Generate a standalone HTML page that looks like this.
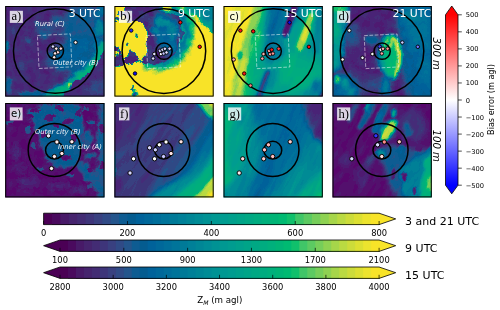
<!DOCTYPE html>
<html><head><meta charset="utf-8"><title>Figure</title>
<style>html,body{margin:0;padding:0;background:#fff}svg{display:block;will-change:transform}text{font-family:"DejaVu Sans","Liberation Sans",sans-serif}.se{font-family:"Liberation Serif","DejaVu Serif",serif}.it{font-style:italic}</style></head><body>
<svg width="500" height="310" viewBox="0 0 500 310">
<rect width="500" height="310" fill="#fff"/>
<defs>
<filter id="b1" filterUnits="userSpaceOnUse" x="-60" y="-60" width="240" height="240"><feGaussianBlur stdDeviation="1"/></filter>
<filter id="b2" filterUnits="userSpaceOnUse" x="-60" y="-60" width="240" height="240"><feGaussianBlur stdDeviation="2"/></filter>
<filter id="b3" filterUnits="userSpaceOnUse" x="-60" y="-60" width="240" height="240"><feGaussianBlur stdDeviation="3.5"/></filter>
<filter id="b6" filterUnits="userSpaceOnUse" x="-60" y="-60" width="240" height="240"><feGaussianBlur stdDeviation="6"/></filter>
<clipPath id="cp00"><rect x="5.2" y="6.0" width="99.3" height="90.6"/></clipPath>
<clipPath id="cp01"><rect x="114.4" y="6.0" width="99.3" height="90.6"/></clipPath>
<clipPath id="cp02"><rect x="223.5" y="6.0" width="99.3" height="90.6"/></clipPath>
<clipPath id="cp03"><rect x="332.5" y="6.0" width="99.3" height="90.6"/></clipPath>
<clipPath id="cp10"><rect x="5.2" y="103.0" width="99.3" height="94.4"/></clipPath>
<clipPath id="cp11"><rect x="114.4" y="103.0" width="99.3" height="94.4"/></clipPath>
<clipPath id="cp12"><rect x="223.5" y="103.0" width="99.3" height="94.4"/></clipPath>
<clipPath id="cp13"><rect x="332.5" y="103.0" width="99.3" height="94.4"/></clipPath>
</defs>
<defs>
<filter id="vma" x="0" y="0" width="100%" height="100%" color-interpolation-filters="sRGB"><feTurbulence type="fractalNoise" baseFrequency="0.13" numOctaves="3" seed="3" result="n"/><feDisplacementMap in="SourceGraphic" in2="n" scale="6" xChannelSelector="R" yChannelSelector="G" result="d"/><feColorMatrix in="n" type="matrix" values="0 0 1 0 0  0 0 1 0 0  0 0 1 0 0  0 0 0 0 1" result="ng"/><feComposite in="d" in2="ng" operator="arithmetic" k1="0" k2="1" k3="0.11" k4="-0.055" result="h"/><feComponentTransfer in="h"><feFuncR type="discrete" tableValues="0.345 0.329 0.306 0.290 0.271 0.243 0.224 0.188 0.141 0.055 0.016 0.000 0.000 0.000 0.000 0.000 0.000 0.000 0.000 0.000 0.000 0.000 0.000 0.000 0.000 0.000 0.000 0.000 0.000 0.063 0.251 0.361 0.463 0.557 0.651 0.729 0.800 0.863 0.925 0.973"/><feFuncG type="discrete" tableValues="0.024 0.063 0.102 0.141 0.173 0.208 0.251 0.290 0.333 0.361 0.361 0.384 0.408 0.431 0.455 0.478 0.502 0.525 0.549 0.573 0.596 0.612 0.627 0.643 0.659 0.675 0.690 0.706 0.729 0.753 0.776 0.792 0.808 0.824 0.839 0.855 0.863 0.878 0.894 0.894"/><feFuncB type="discrete" tableValues="0.424 0.431 0.447 0.463 0.471 0.478 0.502 0.525 0.549 0.573 0.565 0.604 0.604 0.604 0.604 0.596 0.596 0.588 0.588 0.580 0.573 0.565 0.549 0.533 0.518 0.502 0.486 0.463 0.447 0.424 0.408 0.384 0.353 0.322 0.290 0.259 0.227 0.196 0.180 0.157"/><feFuncA type="linear" slope="0" intercept="1"/></feComponentTransfer></filter>
<filter id="vmb" x="0" y="0" width="100%" height="100%" color-interpolation-filters="sRGB"><feTurbulence type="fractalNoise" baseFrequency="0.12" numOctaves="3" seed="5" result="n"/><feDisplacementMap in="SourceGraphic" in2="n" scale="7" xChannelSelector="R" yChannelSelector="G" result="d"/><feColorMatrix in="n" type="matrix" values="0 0 1 0 0  0 0 1 0 0  0 0 1 0 0  0 0 0 0 1" result="ng"/><feComposite in="d" in2="ng" operator="arithmetic" k1="0" k2="1" k3="0.1" k4="-0.05" result="h"/><feComponentTransfer in="h"><feFuncR type="discrete" tableValues="0.345 0.329 0.306 0.290 0.243 0.224 0.188 0.141 0.055 0.016 0.000 0.000 0.000 0.000 0.000 0.000 0.000 0.000 0.000 0.000 0.000 0.000 0.000 0.000 0.000 0.000 0.063 0.251 0.361 0.557 0.651 0.729 0.800 0.863 0.925 0.973 0.973 0.973 0.973 0.973"/><feFuncG type="discrete" tableValues="0.024 0.063 0.102 0.141 0.208 0.251 0.290 0.333 0.361 0.361 0.384 0.408 0.455 0.478 0.502 0.525 0.549 0.573 0.596 0.612 0.627 0.659 0.675 0.690 0.706 0.729 0.753 0.776 0.792 0.824 0.839 0.855 0.863 0.878 0.894 0.894 0.894 0.894 0.894 0.894"/><feFuncB type="discrete" tableValues="0.424 0.431 0.447 0.463 0.478 0.502 0.525 0.549 0.573 0.565 0.604 0.604 0.604 0.596 0.596 0.588 0.588 0.580 0.573 0.565 0.549 0.518 0.502 0.486 0.463 0.447 0.424 0.408 0.384 0.322 0.290 0.259 0.227 0.196 0.180 0.157 0.157 0.157 0.157 0.157"/><feFuncA type="linear" slope="0" intercept="1"/></feComponentTransfer></filter>
<filter id="vmc" x="0" y="0" width="100%" height="100%" color-interpolation-filters="sRGB"><feTurbulence type="fractalNoise" baseFrequency="0.16 0.035" numOctaves="3" seed="8" result="n"/><feDisplacementMap in="SourceGraphic" in2="n" scale="5" xChannelSelector="R" yChannelSelector="G" result="d"/><feColorMatrix in="n" type="matrix" values="0 0 1 0 0  0 0 1 0 0  0 0 1 0 0  0 0 0 0 1" result="ng"/><feComposite in="d" in2="ng" operator="arithmetic" k1="0" k2="1" k3="0.12" k4="-0.06" result="h"/><feComponentTransfer in="h"><feFuncR type="discrete" tableValues="0.345 0.329 0.306 0.290 0.271 0.243 0.224 0.188 0.141 0.055 0.016 0.000 0.000 0.000 0.000 0.000 0.000 0.000 0.000 0.000 0.000 0.000 0.000 0.000 0.000 0.000 0.000 0.000 0.000 0.063 0.251 0.361 0.463 0.557 0.651 0.729 0.800 0.863 0.925 0.973"/><feFuncG type="discrete" tableValues="0.024 0.063 0.102 0.141 0.173 0.208 0.251 0.290 0.333 0.361 0.361 0.384 0.408 0.431 0.455 0.478 0.502 0.525 0.549 0.573 0.596 0.612 0.627 0.643 0.659 0.675 0.690 0.706 0.729 0.753 0.776 0.792 0.808 0.824 0.839 0.855 0.863 0.878 0.894 0.894"/><feFuncB type="discrete" tableValues="0.424 0.431 0.447 0.463 0.471 0.478 0.502 0.525 0.549 0.573 0.565 0.604 0.604 0.604 0.604 0.596 0.596 0.588 0.588 0.580 0.573 0.565 0.549 0.533 0.518 0.502 0.486 0.463 0.447 0.424 0.408 0.384 0.353 0.322 0.290 0.259 0.227 0.196 0.180 0.157"/><feFuncA type="linear" slope="0" intercept="1"/></feComponentTransfer></filter>
<filter id="vmd" x="0" y="0" width="100%" height="100%" color-interpolation-filters="sRGB"><feTurbulence type="fractalNoise" baseFrequency="0.13" numOctaves="3" seed="6" result="n"/><feDisplacementMap in="SourceGraphic" in2="n" scale="4.5" xChannelSelector="R" yChannelSelector="G" result="d"/><feColorMatrix in="n" type="matrix" values="0 0 1 0 0  0 0 1 0 0  0 0 1 0 0  0 0 0 0 1" result="ng"/><feComposite in="d" in2="ng" operator="arithmetic" k1="0" k2="1" k3="0.1" k4="-0.05" result="h"/><feComponentTransfer in="h"><feFuncR type="discrete" tableValues="0.345 0.329 0.306 0.290 0.271 0.243 0.224 0.188 0.141 0.055 0.016 0.000 0.000 0.000 0.000 0.000 0.000 0.000 0.000 0.000 0.000 0.000 0.000 0.000 0.000 0.000 0.000 0.000 0.000 0.063 0.251 0.361 0.463 0.557 0.651 0.729 0.800 0.863 0.925 0.973"/><feFuncG type="discrete" tableValues="0.024 0.063 0.102 0.141 0.173 0.208 0.251 0.290 0.333 0.361 0.361 0.384 0.408 0.431 0.455 0.478 0.502 0.525 0.549 0.573 0.596 0.612 0.627 0.643 0.659 0.675 0.690 0.706 0.729 0.753 0.776 0.792 0.808 0.824 0.839 0.855 0.863 0.878 0.894 0.894"/><feFuncB type="discrete" tableValues="0.424 0.431 0.447 0.463 0.471 0.478 0.502 0.525 0.549 0.573 0.565 0.604 0.604 0.604 0.604 0.596 0.596 0.588 0.588 0.580 0.573 0.565 0.549 0.533 0.518 0.502 0.486 0.463 0.447 0.424 0.408 0.384 0.353 0.322 0.290 0.259 0.227 0.196 0.180 0.157"/><feFuncA type="linear" slope="0" intercept="1"/></feComponentTransfer></filter>
<filter id="vme" x="0" y="0" width="100%" height="100%" color-interpolation-filters="sRGB"><feTurbulence type="fractalNoise" baseFrequency="0.13" numOctaves="3" seed="7" result="n"/><feDisplacementMap in="SourceGraphic" in2="n" scale="8" xChannelSelector="R" yChannelSelector="G" result="d"/><feColorMatrix in="n" type="matrix" values="0 0 1 0 0  0 0 1 0 0  0 0 1 0 0  0 0 0 0 1" result="ng"/><feComposite in="d" in2="ng" operator="arithmetic" k1="0" k2="1" k3="0.1" k4="-0.05" result="h"/><feComponentTransfer in="h"><feFuncR type="discrete" tableValues="0.345 0.329 0.306 0.290 0.271 0.243 0.224 0.188 0.141 0.055 0.016 0.000 0.000 0.000 0.000 0.000 0.000 0.000 0.000 0.000 0.000 0.000 0.000 0.000 0.000 0.000 0.000 0.000 0.000 0.063 0.251 0.361 0.463 0.557 0.651 0.729 0.800 0.863 0.925 0.973"/><feFuncG type="discrete" tableValues="0.024 0.063 0.102 0.141 0.173 0.208 0.251 0.290 0.333 0.361 0.361 0.384 0.408 0.431 0.455 0.478 0.502 0.525 0.549 0.573 0.596 0.612 0.627 0.643 0.659 0.675 0.690 0.706 0.729 0.753 0.776 0.792 0.808 0.824 0.839 0.855 0.863 0.878 0.894 0.894"/><feFuncB type="discrete" tableValues="0.424 0.431 0.447 0.463 0.471 0.478 0.502 0.525 0.549 0.573 0.565 0.604 0.604 0.604 0.604 0.596 0.596 0.588 0.588 0.580 0.573 0.565 0.549 0.533 0.518 0.502 0.486 0.463 0.447 0.424 0.408 0.384 0.353 0.322 0.290 0.259 0.227 0.196 0.180 0.157"/><feFuncA type="linear" slope="0" intercept="1"/></feComponentTransfer></filter>
<filter id="vmf" x="0" y="0" width="100%" height="100%" color-interpolation-filters="sRGB"><feTurbulence type="fractalNoise" baseFrequency="0.17 0.03" numOctaves="3" seed="11" result="n"/><feDisplacementMap in="SourceGraphic" in2="n" scale="4" xChannelSelector="R" yChannelSelector="G" result="d"/><feColorMatrix in="n" type="matrix" values="0 0 1 0 0  0 0 1 0 0  0 0 1 0 0  0 0 0 0 1" result="ng"/><feComposite in="d" in2="ng" operator="arithmetic" k1="0" k2="1" k3="0.11" k4="-0.055" result="h"/><feComponentTransfer in="h"><feFuncR type="discrete" tableValues="0.345 0.329 0.306 0.290 0.271 0.243 0.224 0.188 0.141 0.055 0.016 0.000 0.000 0.000 0.000 0.000 0.000 0.000 0.000 0.000 0.000 0.000 0.000 0.000 0.000 0.000 0.000 0.000 0.000 0.063 0.251 0.361 0.463 0.557 0.651 0.729 0.800 0.863 0.925 0.973"/><feFuncG type="discrete" tableValues="0.024 0.063 0.102 0.141 0.173 0.208 0.251 0.290 0.333 0.361 0.361 0.384 0.408 0.431 0.455 0.478 0.502 0.525 0.549 0.573 0.596 0.612 0.627 0.643 0.659 0.675 0.690 0.706 0.729 0.753 0.776 0.792 0.808 0.824 0.839 0.855 0.863 0.878 0.894 0.894"/><feFuncB type="discrete" tableValues="0.424 0.431 0.447 0.463 0.471 0.478 0.502 0.525 0.549 0.573 0.565 0.604 0.604 0.604 0.604 0.596 0.596 0.588 0.588 0.580 0.573 0.565 0.549 0.533 0.518 0.502 0.486 0.463 0.447 0.424 0.408 0.384 0.353 0.322 0.290 0.259 0.227 0.196 0.180 0.157"/><feFuncA type="linear" slope="0" intercept="1"/></feComponentTransfer></filter>
<filter id="vmg" x="0" y="0" width="100%" height="100%" color-interpolation-filters="sRGB"><feTurbulence type="fractalNoise" baseFrequency="0.17 0.03" numOctaves="3" seed="13" result="n"/><feDisplacementMap in="SourceGraphic" in2="n" scale="4" xChannelSelector="R" yChannelSelector="G" result="d"/><feColorMatrix in="n" type="matrix" values="0 0 1 0 0  0 0 1 0 0  0 0 1 0 0  0 0 0 0 1" result="ng"/><feComposite in="d" in2="ng" operator="arithmetic" k1="0" k2="1" k3="0.12" k4="-0.06" result="h"/><feComponentTransfer in="h"><feFuncR type="discrete" tableValues="0.345 0.329 0.306 0.290 0.271 0.243 0.224 0.188 0.141 0.055 0.016 0.000 0.000 0.000 0.000 0.000 0.000 0.000 0.000 0.000 0.000 0.000 0.000 0.000 0.000 0.000 0.000 0.000 0.000 0.063 0.251 0.361 0.463 0.557 0.651 0.729 0.800 0.863 0.925 0.973"/><feFuncG type="discrete" tableValues="0.024 0.063 0.102 0.141 0.173 0.208 0.251 0.290 0.333 0.361 0.361 0.384 0.408 0.431 0.455 0.478 0.502 0.525 0.549 0.573 0.596 0.612 0.627 0.643 0.659 0.675 0.690 0.706 0.729 0.753 0.776 0.792 0.808 0.824 0.839 0.855 0.863 0.878 0.894 0.894"/><feFuncB type="discrete" tableValues="0.424 0.431 0.447 0.463 0.471 0.478 0.502 0.525 0.549 0.573 0.565 0.604 0.604 0.604 0.604 0.596 0.596 0.588 0.588 0.580 0.573 0.565 0.549 0.533 0.518 0.502 0.486 0.463 0.447 0.424 0.408 0.384 0.353 0.322 0.290 0.259 0.227 0.196 0.180 0.157"/><feFuncA type="linear" slope="0" intercept="1"/></feComponentTransfer></filter>
<filter id="vmh" x="0" y="0" width="100%" height="100%" color-interpolation-filters="sRGB"><feTurbulence type="fractalNoise" baseFrequency="0.15 0.06" numOctaves="3" seed="17" result="n"/><feDisplacementMap in="SourceGraphic" in2="n" scale="6" xChannelSelector="R" yChannelSelector="G" result="d"/><feColorMatrix in="n" type="matrix" values="0 0 1 0 0  0 0 1 0 0  0 0 1 0 0  0 0 0 0 1" result="ng"/><feComposite in="d" in2="ng" operator="arithmetic" k1="0" k2="1" k3="0.1" k4="-0.05" result="h"/><feComponentTransfer in="h"><feFuncR type="discrete" tableValues="0.345 0.329 0.306 0.290 0.271 0.243 0.224 0.188 0.141 0.055 0.016 0.000 0.000 0.000 0.000 0.000 0.000 0.000 0.000 0.000 0.000 0.000 0.000 0.000 0.000 0.000 0.000 0.000 0.000 0.063 0.251 0.361 0.463 0.557 0.651 0.729 0.800 0.863 0.925 0.973"/><feFuncG type="discrete" tableValues="0.024 0.063 0.102 0.141 0.173 0.208 0.251 0.290 0.333 0.361 0.361 0.384 0.408 0.431 0.455 0.478 0.502 0.525 0.549 0.573 0.596 0.612 0.627 0.643 0.659 0.675 0.690 0.706 0.729 0.753 0.776 0.792 0.808 0.824 0.839 0.855 0.863 0.878 0.894 0.894"/><feFuncB type="discrete" tableValues="0.424 0.431 0.447 0.463 0.471 0.478 0.502 0.525 0.549 0.573 0.565 0.604 0.604 0.604 0.604 0.596 0.596 0.588 0.588 0.580 0.573 0.565 0.549 0.533 0.518 0.502 0.486 0.463 0.447 0.424 0.408 0.384 0.353 0.322 0.290 0.259 0.227 0.196 0.180 0.157"/><feFuncA type="linear" slope="0" intercept="1"/></feComponentTransfer></filter>
</defs>
<g clip-path="url(#cp00)">
<g transform="translate(5.2,6.0)">
<g filter="url(#vma)"><rect x="-40" y="-40" width="180" height="176" fill="#1b1b1b"/><ellipse cx="78.8" cy="24.0" rx="24" ry="26" fill="#3c3c3c" filter="url(#b3)"/><ellipse cx="64.8" cy="52.0" rx="22" ry="15" fill="#474747" filter="url(#b3)"/><ellipse cx="40.8" cy="24.0" rx="11" ry="7" fill="#333333" filter="url(#b2)"/><ellipse cx="54.8" cy="15.0" rx="10" ry="5" fill="#383838" filter="url(#b2)"/><ellipse cx="30.8" cy="18.0" rx="4" ry="3" fill="#383838" filter="url(#b1)"/><ellipse cx="37.8" cy="30.0" rx="3" ry="4" fill="#3d3d3d" filter="url(#b1)"/><ellipse cx="22.8" cy="34.0" rx="3" ry="3" fill="#333333" filter="url(#b1)"/><ellipse cx="74.8" cy="42.0" rx="10" ry="12" fill="#4a4a4a" filter="url(#b3)"/><polygon points="34.8,93.0 42.8,85.0 54.8,79.0 66.8,71.0 76.8,63.0 86.8,51.0 94.8,39.0 100.8,34.0 100.8,54.0 92.8,62.0 84.8,68.0 74.8,74.0 64.8,82.0 54.8,93.0" fill="#636363" filter="url(#b2)"/><polyline points="40.8,91.0 56.8,83.5 64.8,79.5" fill="none" stroke="#8c8c8c" stroke-width="8.5" stroke-linecap="round" stroke-linejoin="round" filter="url(#b1)"/><polyline points="69.8,74.0 78.8,68.5 86.8,61.5 91.8,54.5 95.8,46.5 98.8,39.0" fill="none" stroke="#8c8c8c" stroke-width="9.5" stroke-linecap="round" stroke-linejoin="round" filter="url(#b1)"/><polyline points="48.8,88.5 60.8,82.5 65.8,79.5" fill="none" stroke="#adadad" stroke-width="3.8" stroke-linecap="round" stroke-linejoin="round" filter="url(#b1)"/><polyline points="71.8,72.5 80.8,67.0 87.8,60.0 92.8,52.5 95.8,46.0" fill="none" stroke="#adadad" stroke-width="4" stroke-linecap="round" stroke-linejoin="round" filter="url(#b1)"/><ellipse cx="65.3" cy="78.5" rx="3" ry="2.2" fill="#e6e6e6" filter="url(#b1)"/><polygon points="51.8,93.0 60.8,86.0 66.3,81.5 67.8,74.0 72.8,73.5 80.8,69.0 88.8,61.5 93.8,54.0 97.8,46.0 101.8,40.0 101.8,93.0" fill="#1c1c1c"/><ellipse cx="93.8" cy="82.0" rx="7" ry="8" fill="#333333" filter="url(#b2)"/><ellipse cx="82.8" cy="86.0" rx="6" ry="4" fill="#2b2b2b" filter="url(#b2)"/><ellipse cx="93.8" cy="22.0" rx="5" ry="9" fill="#666666" filter="url(#b1)"/><ellipse cx="95.8" cy="6.0" rx="5" ry="5" fill="#545454" filter="url(#b1)"/><ellipse cx="90.8" cy="38.0" rx="4" ry="5" fill="#5c5c5c" filter="url(#b1)"/><ellipse cx="1.3" cy="41.0" rx="2.5" ry="5" fill="#6b6b6b" filter="url(#b1)"/><ellipse cx="2.8" cy="80.0" rx="4" ry="9" fill="#404040" filter="url(#b1)"/><ellipse cx="26.8" cy="88.0" rx="14" ry="3" fill="#454545" filter="url(#b1)"/><ellipse cx="14.8" cy="60.0" rx="4" ry="6" fill="#292929" filter="url(#b2)"/><ellipse cx="8.8" cy="24.0" rx="4" ry="6" fill="#292929" filter="url(#b2)"/></g>
</g></g>
<g transform="translate(5.2,6.0)">
<ellipse cx="50.05" cy="45.0" rx="41.8" ry="42.3" fill="none" stroke="#000" stroke-width="1.5"/><ellipse cx="50.15" cy="45.1" rx="8.15" ry="8.15" fill="none" stroke="#000" stroke-width="1.5"/><rect x="33.0" y="28.7" width="33.0" height="33.0" fill="none" stroke="#fff" stroke-opacity="0.56" stroke-width="0.9" stroke-dasharray="3.7 1.6" transform="rotate(-2.9 49.5 45.2)"/><circle cx="47.75" cy="40.5" r="1.75" fill="#dbdbff" stroke="#000" stroke-width="0.9"/><circle cx="51.05" cy="42.65" r="1.75" fill="#ffebeb" stroke="#000" stroke-width="0.9"/><circle cx="55.65" cy="42.6" r="1.75" fill="#ffdbdb" stroke="#000" stroke-width="0.9"/><circle cx="52.65" cy="46.35" r="1.75" fill="#ffd9d9" stroke="#000" stroke-width="0.9"/><circle cx="49.85" cy="47.4" r="1.75" fill="#ffebeb" stroke="#000" stroke-width="0.9"/><circle cx="49.0" cy="51.3" r="1.75" fill="#fff0f0" stroke="#000" stroke-width="0.9"/><circle cx="70.35" cy="36.4" r="1.75" fill="#fff5f5" stroke="#000" stroke-width="0.9"/><text x="29.8" y="20.0" font-size="6.75" class="it" fill="#fff" fill-opacity="0.95">Rural (C)</text><text x="47.8" y="58.6" font-size="6.75" class="it" fill="#fff" fill-opacity="0.95">Outer city (B)</text><text x="79.5" y="10.9" font-size="10.9" text-anchor="middle" fill="#fff">3 UTC</text>
<rect x="4.6" y="4.8" width="13.1" height="12.1" fill="#fff" fill-opacity="0.8"/>
<text x="11.15" y="14.00" font-size="12.6" text-anchor="middle" fill="#000" class="se">a)</text>
</g>
<rect x="5.7" y="6.5" width="98.3" height="89.6" fill="none" stroke="#000" stroke-width="1"/>
<g clip-path="url(#cp01)">
<g transform="translate(114.4,6.0)">
<g filter="url(#vmb)"><rect x="-40" y="-40" width="180" height="176" fill="#fbfbfb"/><polyline points="49.6,0.0 59.6,4.0 67.6,9.0 71.6,19.0 71.6,30.0 67.6,41.0 62.6,49.0 53.6,55.0 42.6,57.0 35.6,56.0" fill="none" stroke="#dbdbdb" stroke-width="25" stroke-linecap="round" stroke-linejoin="round" filter="url(#b2)"/><polyline points="49.6,0.0 59.6,4.0 67.6,9.0 71.6,19.0 71.6,30.0 67.6,41.0 62.6,49.0 53.6,55.0 42.6,57.0 35.6,56.0" fill="none" stroke="#b2b2b2" stroke-width="18" stroke-linecap="round" stroke-linejoin="round" filter="url(#b1)"/><polyline points="49.6,0.0 59.6,4.0 67.6,9.0 71.6,19.0 71.6,30.0 67.6,41.0 62.6,49.0 53.6,55.0 42.6,57.0 35.6,56.0" fill="none" stroke="#858585" stroke-width="10" stroke-linecap="round" stroke-linejoin="round" filter="url(#b1)"/><polyline points="49.6,0.0 59.6,4.0 67.6,9.0 71.6,19.0 71.6,30.0 67.6,41.0 62.6,49.0 53.6,55.0 42.6,57.0 35.6,56.0" fill="none" stroke="#525252" stroke-width="5" stroke-linecap="round" stroke-linejoin="round" filter="url(#b1)"/><polygon points="69.6,-4.0 105.6,-4.0 105.6,30.0 96.6,27.0 89.6,20.0 82.6,12.0 73.6,6.0" fill="#737373" filter="url(#b1)"/><ellipse cx="95.6" cy="6.0" rx="7" ry="8" fill="#5c5c5c" filter="url(#b1)"/><polygon points="13.6,-4.0 47.6,-4.0 48.6,4.0 56.6,7.0 63.6,10.0 66.6,16.0 67.6,28.0 64.6,40.0 60.6,49.0 51.6,56.0 42.6,59.0 34.6,58.0 31.6,50.0 32.6,34.0 31.6,21.0 28.6,16.0 13.6,16.0 9.6,10.0 11.6,2.0" fill="#1a1a1a"/><polygon points="40.6,8.0 55.6,8.0 62.6,15.0 64.6,29.0 60.6,41.0 53.6,49.0 45.6,46.0 43.6,35.0 38.6,25.0 36.6,16.0" fill="#454545" filter="url(#b2)"/><polygon points="-4.4,41.0 3.6,40.0 6.6,47.0 9.6,54.0 13.6,49.0 16.6,43.0 20.6,49.0 24.6,56.0 28.6,51.0 32.6,46.0 34.6,58.0 25.6,56.0 11.6,59.0 -4.4,60.0" fill="#1a1a1a"/><ellipse cx="48.6" cy="17.0" rx="8" ry="4.5" fill="#666666" filter="url(#b1)"/><ellipse cx="40.6" cy="24.0" rx="4" ry="3" fill="#595959" filter="url(#b1)"/><ellipse cx="58.6" cy="26.0" rx="4" ry="8" fill="#616161" filter="url(#b2)"/><ellipse cx="59.6" cy="40.0" rx="3" ry="6" fill="#545454" filter="url(#b2)"/><ellipse cx="51.6" cy="2.0" rx="4.5" ry="3.5" fill="#e0e0e0" filter="url(#b1)"/><ellipse cx="20.6" cy="87.5" rx="3" ry="3" fill="#1f1f1f" filter="url(#b1)"/><ellipse cx="18.6" cy="82.0" rx="1.5" ry="2" fill="#262626"/><ellipse cx="1.6" cy="48.0" rx="3" ry="3" fill="#fbfbfb"/><ellipse cx="6.6" cy="8.0" rx="3" ry="3" fill="#1f1f1f"/><ellipse cx="2.6" cy="14.0" rx="2" ry="2" fill="#1f1f1f"/><ellipse cx="21.6" cy="30.0" rx="1.5" ry="1.5" fill="#262626"/><ellipse cx="12.6" cy="38.0" rx="1.5" ry="1.5" fill="#262626"/></g>
</g></g>
<g transform="translate(114.4,6.0)">
<ellipse cx="49.5" cy="45.1" rx="41.8" ry="42.3" fill="none" stroke="#000" stroke-width="1.5"/><ellipse cx="49.6" cy="45.2" rx="8.15" ry="8.15" fill="none" stroke="#000" stroke-width="1.5"/><rect x="32.45" y="28.8" width="33.0" height="33.0" fill="none" stroke="#fff" stroke-opacity="0.56" stroke-width="0.9" stroke-dasharray="3.7 1.6" transform="rotate(-2.9 48.95 45.3)"/><circle cx="65.9" cy="16.4" r="1.75" fill="#ff1414" stroke="#000" stroke-width="0.9"/><circle cx="85.3" cy="40.8" r="1.75" fill="#ff0808" stroke="#000" stroke-width="0.9"/><circle cx="16.8" cy="24.5" r="1.75" fill="#2626ff" stroke="#000" stroke-width="0.9"/><circle cx="20.6" cy="67.5" r="1.75" fill="#0808ff" stroke="#000" stroke-width="0.9"/><circle cx="39.9" cy="48.0" r="1.75" fill="#e6e6ff" stroke="#000" stroke-width="0.9"/><circle cx="38.7" cy="52.5" r="1.75" fill="#dbdbff" stroke="#000" stroke-width="0.9"/><circle cx="45.5" cy="44.8" r="1.75" fill="#ccccff" stroke="#000" stroke-width="0.9"/><circle cx="48.1" cy="43.65" r="1.75" fill="#d6d6ff" stroke="#000" stroke-width="0.9"/><circle cx="50.5" cy="42.75" r="1.75" fill="#d1d1ff" stroke="#000" stroke-width="0.9"/><circle cx="55.1" cy="42.7" r="1.75" fill="#d1d1ff" stroke="#000" stroke-width="0.9"/><circle cx="46.55" cy="48.1" r="1.75" fill="#f5f5ff" stroke="#000" stroke-width="0.9"/><circle cx="49.3" cy="47.5" r="1.75" fill="#c2c2ff" stroke="#000" stroke-width="0.9"/><circle cx="52.1" cy="46.45" r="1.75" fill="#e0e0ff" stroke="#000" stroke-width="0.9"/><text x="79.5" y="10.9" font-size="10.9" text-anchor="middle" fill="#fff">9 UTC</text>
<rect x="4.6" y="4.8" width="13.1" height="12.1" fill="#fff" fill-opacity="0.8"/>
<text x="11.15" y="14.00" font-size="12.6" text-anchor="middle" fill="#000" class="se">b)</text>
</g>
<rect x="114.9" y="6.5" width="98.3" height="89.6" fill="none" stroke="#000" stroke-width="1"/>
<g clip-path="url(#cp02)">
<g transform="translate(223.5,6.0)">
<g transform="rotate(18 50 46)" filter="url(#vmc)"><g transform="rotate(-18 50 46)"><rect x="-40" y="-40" width="180" height="176" fill="#8f8f8f"/><polygon points="-3.5,-4.0 46.5,-4.0 39.5,24.0 32.5,54.0 26.5,95.0 -3.5,95.0" fill="#b8b8b8" filter="url(#b2)"/><polygon points="-3.5,-4.0 39.5,-4.0 32.5,24.0 25.5,54.0 19.5,95.0 -3.5,95.0" fill="#d6d6d6" filter="url(#b2)"/><polygon points="-3.5,-4.0 30.5,-4.0 26.5,12.0 21.5,32.0 15.5,52.0 10.5,74.0 7.5,95.0 -3.5,95.0" fill="#f7f7f7" filter="url(#b1)"/><polyline points="22.5,54.0 17.5,74.0 13.5,93.0" fill="none" stroke="#e6e6e6" stroke-width="5" stroke-linecap="round" stroke-linejoin="round" filter="url(#b1)"/><polyline points="34.5,24.0 29.5,50.0" fill="none" stroke="#cccccc" stroke-width="4" stroke-linecap="round" stroke-linejoin="round" filter="url(#b1)"/><ellipse cx="16.5" cy="49.0" rx="2.5" ry="4" fill="#9e9e9e" filter="url(#b1)"/><polygon points="44.5,-4.0 66.5,-4.0 62.5,18.0 58.5,36.0 50.5,56.0 42.5,58.0 40.5,34.0" fill="#5c5c5c" filter="url(#b3)"/><polyline points="53.5,0.0 47.5,28.0" fill="none" stroke="#474747" stroke-width="7" stroke-linecap="round" stroke-linejoin="round" filter="url(#b2)"/><ellipse cx="52.5" cy="46.0" rx="10" ry="9" fill="#5c5c5c" filter="url(#b3)"/><polyline points="34.5,34.0 28.5,70.0" fill="none" stroke="#a8a8a8" stroke-width="8" stroke-linecap="round" stroke-linejoin="round" filter="url(#b3)"/><polyline points="71.5,0.0 66.5,14.0 61.5,28.0" fill="none" stroke="#0d0d0d" stroke-width="7" stroke-linecap="round" stroke-linejoin="round" filter="url(#b1)"/><polyline points="75.5,0.0 70.5,14.0" fill="none" stroke="#333333" stroke-width="5" stroke-linecap="round" stroke-linejoin="round" filter="url(#b2)" stroke-opacity="0.6"/><polyline points="87.5,10.0 81.5,26.0 75.5,42.0" fill="none" stroke="#dbdbdb" stroke-width="7" stroke-linecap="round" stroke-linejoin="round" filter="url(#b1)"/><polyline points="83.5,22.0 79.5,34.0" fill="none" stroke="#f7f7f7" stroke-width="3" stroke-linecap="round" stroke-linejoin="round" filter="url(#b1)"/><polyline points="97.5,0.0 94.5,24.0 92.5,46.0" fill="none" stroke="#6b6b6b" stroke-width="8" stroke-linecap="round" stroke-linejoin="round" filter="url(#b2)"/><polyline points="80.5,0.0 77.5,10.0" fill="none" stroke="#6b6b6b" stroke-width="6" stroke-linecap="round" stroke-linejoin="round" filter="url(#b2)"/><ellipse cx="73.5" cy="66.0" rx="22" ry="17" fill="#a3a3a3" filter="url(#b3)"/><polyline points="44.5,68.0 39.5,80.0 34.5,93.0" fill="none" stroke="#262626" stroke-width="6" stroke-linecap="round" stroke-linejoin="round" filter="url(#b1)"/><polyline points="51.5,64.0 45.5,82.0" fill="none" stroke="#6b6b6b" stroke-width="5" stroke-linecap="round" stroke-linejoin="round" filter="url(#b2)"/><ellipse cx="94.5" cy="82.0" rx="7" ry="9" fill="#545454" filter="url(#b2)"/><ellipse cx="98.5" cy="90.0" rx="4" ry="4" fill="#1a1a1a" filter="url(#b1)"/><ellipse cx="86.5" cy="88.0" rx="8" ry="4" fill="#6b6b6b" filter="url(#b2)"/></g></g>
</g></g>
<g transform="translate(223.5,6.0)">
<ellipse cx="49.6" cy="45.15" rx="41.8" ry="42.3" fill="none" stroke="#000" stroke-width="1.5"/><ellipse cx="49.7" cy="45.25" rx="8.15" ry="8.15" fill="none" stroke="#000" stroke-width="1.5"/><rect x="32.55" y="28.85" width="33.0" height="33.0" fill="none" stroke="#fff" stroke-opacity="0.56" stroke-width="0.9" stroke-dasharray="3.7 1.6" transform="rotate(-2.9 49.05 45.35)"/><circle cx="66.0" cy="16.45" r="1.75" fill="#0808ff" stroke="#000" stroke-width="0.9"/><circle cx="16.9" cy="24.55" r="1.75" fill="#ff1414" stroke="#000" stroke-width="0.9"/><circle cx="29.7" cy="25.35" r="1.75" fill="#ff0f0f" stroke="#000" stroke-width="0.9"/><circle cx="85.4" cy="40.85" r="1.75" fill="#ff0808" stroke="#000" stroke-width="0.9"/><circle cx="10.2" cy="53.55" r="1.75" fill="#ffadad" stroke="#000" stroke-width="0.9"/><circle cx="20.7" cy="67.55" r="1.75" fill="#ff1414" stroke="#000" stroke-width="0.9"/><circle cx="27.0" cy="79.55" r="1.75" fill="#ff8080" stroke="#000" stroke-width="0.9"/><circle cx="40.0" cy="48.05" r="1.75" fill="#ffadad" stroke="#000" stroke-width="0.9"/><circle cx="38.8" cy="52.55" r="1.75" fill="#ffa3a3" stroke="#000" stroke-width="0.9"/><circle cx="45.6" cy="44.85" r="1.75" fill="#ff9999" stroke="#000" stroke-width="0.9"/><circle cx="48.2" cy="43.7" r="1.75" fill="#ff1a1a" stroke="#000" stroke-width="0.9"/><circle cx="55.2" cy="42.75" r="1.75" fill="#ff4040" stroke="#000" stroke-width="0.9"/><circle cx="46.65" cy="48.15" r="1.75" fill="#ff9e9e" stroke="#000" stroke-width="0.9"/><circle cx="49.4" cy="47.55" r="1.75" fill="#ff9494" stroke="#000" stroke-width="0.9"/><text x="79.5" y="10.9" font-size="10.9" text-anchor="middle" fill="#fff">15 UTC</text>
<rect x="4.6" y="4.8" width="12.4" height="12.1" fill="#fff" fill-opacity="0.8"/>
<text x="10.80" y="13.80" font-size="10.2" text-anchor="middle" fill="#000">c)</text>
</g>
<rect x="224.0" y="6.5" width="98.3" height="89.6" fill="none" stroke="#000" stroke-width="1"/>
<g clip-path="url(#cp03)">
<g transform="translate(332.5,6.0)">
<g filter="url(#vmd)"><rect x="-40" y="-40" width="180" height="176" fill="#161616"/><polygon points="-2.5,-4.0 17.5,-4.0 15.5,8.0 12.5,24.0 10.5,46.0 7.5,64.0 -2.5,66.0" fill="#808080" filter="url(#b2)"/><ellipse cx="5.5" cy="3.0" rx="10" ry="5.5" fill="#bfbfbf" filter="url(#b2)"/><ellipse cx="3.0" cy="24.0" rx="3.5" ry="16" fill="#a3a3a3" filter="url(#b2)"/><ellipse cx="19.5" cy="30.0" rx="6" ry="12" fill="#404040" filter="url(#b3)"/><polygon points="64.5,-4.0 103.5,-4.0 103.5,95.0 77.5,95.0 71.5,74.0 69.5,54.0 67.5,34.0 64.5,18.0" fill="#4a4a4a" filter="url(#b3)"/><ellipse cx="87.5" cy="24.0" rx="12" ry="20" fill="#616161" filter="url(#b6)"/><ellipse cx="75.5" cy="10.0" rx="8" ry="6" fill="#6b6b6b" filter="url(#b3)"/><ellipse cx="93.5" cy="64.0" rx="6" ry="14" fill="#5c5c5c" filter="url(#b3)"/><ellipse cx="56.5" cy="50.0" rx="11" ry="21" fill="#808080" filter="url(#b2)"/><ellipse cx="59.5" cy="50.0" rx="8.5" ry="20" fill="#b2b2b2" filter="url(#b2)"/><polygon points="59.5,30.0 64.5,33.0 68.0,40.0 69.5,48.0 69.0,56.0 67.0,64.0 63.5,71.0 59.5,75.5 61.0,69.0 63.5,62.0 65.0,54.0 65.0,46.0 63.5,39.0 60.5,34.0" fill="#ededed" filter="url(#b1)"/><polyline points="51.5,40.0 55.5,31.0" fill="none" stroke="#dbdbdb" stroke-width="2.5" stroke-linecap="round" stroke-linejoin="round" filter="url(#b1)"/><polyline points="57.0,41.0 60.5,32.0" fill="none" stroke="#e6e6e6" stroke-width="2.5" stroke-linecap="round" stroke-linejoin="round" filter="url(#b1)"/><ellipse cx="39.5" cy="34.0" rx="8" ry="5" fill="#474747" filter="url(#b2)"/><polygon points="-0.5,70.0 12.5,66.0 23.5,72.0 29.5,84.0 29.5,95.0 -2.5,95.0" fill="#4c4c4c" filter="url(#b3)"/><ellipse cx="12.5" cy="78.0" rx="4" ry="7" fill="#808080" filter="url(#b2)"/><ellipse cx="19.5" cy="86.0" rx="3" ry="5" fill="#808080" filter="url(#b2)"/><ellipse cx="4.5" cy="74.0" rx="2" ry="5" fill="#cccccc" filter="url(#b1)"/><ellipse cx="52.5" cy="80.0" rx="6" ry="9" fill="#6b6b6b" filter="url(#b2)"/><ellipse cx="39.5" cy="78.0" rx="10" ry="8" fill="#2e2e2e" filter="url(#b3)"/></g>
</g></g>
<g transform="translate(332.5,6.0)">
<ellipse cx="49.5" cy="45.1" rx="41.8" ry="42.3" fill="none" stroke="#000" stroke-width="1.5"/><ellipse cx="49.6" cy="45.2" rx="8.15" ry="8.15" fill="none" stroke="#000" stroke-width="1.5"/><rect x="32.45" y="28.8" width="33.0" height="33.0" fill="none" stroke="#fff" stroke-opacity="0.56" stroke-width="0.9" stroke-dasharray="3.7 1.6" transform="rotate(-2.9 48.95 45.3)"/><circle cx="16.8" cy="24.5" r="1.75" fill="#fffafa" stroke="#000" stroke-width="0.9"/><circle cx="69.8" cy="36.5" r="1.75" fill="#c7c7ff" stroke="#000" stroke-width="0.9"/><circle cx="85.3" cy="40.8" r="1.75" fill="#7373ff" stroke="#000" stroke-width="0.9"/><circle cx="10.1" cy="53.5" r="1.75" fill="#fff7f7" stroke="#000" stroke-width="0.9"/><circle cx="30.0" cy="51.8" r="1.75" fill="#f7f7ff" stroke="#000" stroke-width="0.9"/><circle cx="39.9" cy="48.0" r="1.75" fill="#ffffff" stroke="#000" stroke-width="0.9"/><circle cx="47.2" cy="40.6" r="1.75" fill="#4040ff" stroke="#000" stroke-width="0.9"/><circle cx="48.1" cy="43.65" r="1.75" fill="#fff7f7" stroke="#000" stroke-width="0.9"/><circle cx="50.5" cy="42.75" r="1.75" fill="#ffb2b2" stroke="#000" stroke-width="0.9"/><circle cx="55.1" cy="42.7" r="1.75" fill="#ff9494" stroke="#000" stroke-width="0.9"/><circle cx="49.3" cy="47.5" r="1.75" fill="#ffa3a3" stroke="#000" stroke-width="0.9"/><text x="79.5" y="10.9" font-size="10.9" text-anchor="middle" fill="#fff">21 UTC</text>
<rect x="4.6" y="4.8" width="13.1" height="12.1" fill="#fff" fill-opacity="0.8"/>
<text x="11.15" y="14.00" font-size="12.6" text-anchor="middle" fill="#000" class="se">d)</text>
</g>
<rect x="333.0" y="6.5" width="98.3" height="89.6" fill="none" stroke="#000" stroke-width="1"/>
<g clip-path="url(#cp10)">
<g transform="translate(5.2,103.0)">
<g filter="url(#vme)"><rect x="-40" y="-40" width="180" height="176" fill="#080808"/><polygon points="21.8,7.0 34.8,3.0 56.8,-1.0 74.8,3.0 78.8,17.0 77.8,37.0 74.8,53.0 70.8,64.0 56.8,66.0 42.8,58.0 35.8,43.0 30.8,25.0 23.8,17.0" fill="#414141" filter="url(#b1)"/><polygon points="91.8,-2.0 102.8,-2.0 102.8,96.0 92.8,96.0 88.8,77.0 93.8,57.0 90.8,32.0 93.8,15.0" fill="#3d3d3d" filter="url(#b1)"/><polygon points="70.8,63.0 78.8,57.0 91.8,69.0 102.8,83.0 102.8,93.0 90.8,87.0 78.8,75.0" fill="#3b3b3b" filter="url(#b1)"/><ellipse cx="82.8" cy="37.0" rx="5" ry="9" fill="#3d3d3d" filter="url(#b1)"/><ellipse cx="84.8" cy="53.0" rx="6" ry="4" fill="#3d3d3d" filter="url(#b1)"/><ellipse cx="63.8" cy="18.0" rx="5" ry="2.5" fill="#0a0a0a"/><ellipse cx="44.8" cy="14.0" rx="5" ry="3" fill="#0a0a0a"/><ellipse cx="54.8" cy="5.0" rx="5" ry="2" fill="#0a0a0a"/><ellipse cx="30.8" cy="7.0" rx="4" ry="2.5" fill="#0a0a0a"/><ellipse cx="68.8" cy="35.0" rx="3" ry="4" fill="#0a0a0a"/><ellipse cx="60.8" cy="55.0" rx="4" ry="3" fill="#0a0a0a"/><ellipse cx="38.8" cy="31.0" rx="3" ry="4" fill="#0a0a0a"/><ellipse cx="50.8" cy="23.0" rx="3" ry="2" fill="#0a0a0a"/><ellipse cx="72.8" cy="9.0" rx="3" ry="4" fill="#0a0a0a"/><ellipse cx="96.8" cy="27.0" rx="3" ry="5" fill="#0a0a0a"/><ellipse cx="97.8" cy="62.0" rx="3" ry="6" fill="#0a0a0a"/><ellipse cx="84.8" cy="67.0" rx="4" ry="2.5" fill="#0a0a0a"/><ellipse cx="24.8" cy="14.0" rx="3" ry="2" fill="#0a0a0a"/><ellipse cx="11.8" cy="11.0" rx="4" ry="2.5" fill="#363636"/><ellipse cx="3.8" cy="19.0" rx="3" ry="2" fill="#363636"/><ellipse cx="22.8" cy="27.0" rx="3" ry="4" fill="#363636"/><ellipse cx="28.8" cy="43.0" rx="2.5" ry="4" fill="#363636"/><ellipse cx="80.8" cy="7.0" rx="3" ry="2" fill="#363636"/><ellipse cx="86.8" cy="19.0" rx="4" ry="2.5" fill="#363636"/><ellipse cx="84.8" cy="83.0" rx="3" ry="2" fill="#363636"/><ellipse cx="64.8" cy="73.0" rx="4" ry="2.5" fill="#363636"/><ellipse cx="34.8" cy="65.0" rx="3" ry="2" fill="#363636"/><ellipse cx="22.8" cy="79.0" rx="12" ry="5" fill="#171717" filter="url(#b2)"/><ellipse cx="52.8" cy="83.0" rx="11" ry="4" fill="#161616" filter="url(#b2)"/><ellipse cx="10.8" cy="49.0" rx="5" ry="9" fill="#141414" filter="url(#b2)"/><ellipse cx="16.8" cy="65.0" rx="5" ry="4" fill="#1a1a1a" filter="url(#b2)"/><ellipse cx="74.8" cy="87.0" rx="8" ry="4" fill="#1c1c1c" filter="url(#b2)"/></g>
</g></g>
<g transform="translate(5.2,103.0)">
<ellipse cx="49.2" cy="47.0" rx="26.25" ry="26.5" fill="none" stroke="#000" stroke-width="1.5"/><ellipse cx="49.3" cy="47.15" rx="8.95" ry="8.8" fill="none" stroke="#000" stroke-width="1.5"/><circle cx="43.3" cy="32.8" r="2.15" fill="#ebebff" stroke="#000" stroke-width="0.95"/><circle cx="51.7" cy="39.0" r="2.15" fill="#fff0f0" stroke="#000" stroke-width="0.95"/><circle cx="66.7" cy="38.8" r="2.15" fill="#ffebeb" stroke="#000" stroke-width="0.95"/><circle cx="56.7" cy="50.5" r="2.15" fill="#ffe5e5" stroke="#000" stroke-width="0.95"/><circle cx="49.2" cy="53.5" r="2.15" fill="#ffebeb" stroke="#000" stroke-width="0.95"/><circle cx="46.3" cy="65.5" r="2.15" fill="#fff5f5" stroke="#000" stroke-width="0.95"/><text x="29.8" y="30.5" font-size="6.75" class="it" fill="#fff" fill-opacity="0.95">Outer city (B)</text><text x="52.8" y="46.0" font-size="6.75" class="it" fill="#fff" fill-opacity="0.95">Inner city (A)</text>
<rect x="4.6" y="4.4" width="12.8" height="13.0" fill="#fff" fill-opacity="0.8"/>
<text x="11.00" y="14.30" font-size="10.2" text-anchor="middle" fill="#000">e)</text>
</g>
<rect x="5.7" y="103.5" width="98.3" height="93.4" fill="none" stroke="#000" stroke-width="1"/>
<g clip-path="url(#cp11)">
<g transform="translate(114.4,103.0)">
<g transform="rotate(32 50 46)" filter="url(#vmf)"><g transform="rotate(-32 50 46)"><rect x="-40" y="-40" width="180" height="176" fill="#1c1c1c"/><polygon points="37.6,-4.0 103.6,-4.0 103.6,98.0 -4.4,98.0 -4.4,69.0" fill="#252525" filter="url(#b3)"/><polygon points="85.6,-4.0 103.6,-4.0 103.6,98.0 31.6,98.0" fill="#333333" filter="url(#b3)"/><polygon points="103.6,5.0 103.6,98.0 49.6,98.0" fill="#4a4a4a" filter="url(#b3)"/><polygon points="103.6,23.0 103.6,98.0 61.6,98.0" fill="#5e5e5e" filter="url(#b3)"/><polyline points="-2.4,57.0 20.6,39.0 45.6,17.0 69.6,-3.0" fill="none" stroke="#303030" stroke-width="7" stroke-linecap="round" stroke-linejoin="round" filter="url(#b3)"/><polygon points="31.6,98.0 51.6,83.0 77.6,71.0 103.6,39.0 103.6,98.0" fill="#737373" filter="url(#b2)"/><polygon points="80.6,-4.0 103.6,-4.0 103.6,19.0 94.6,14.0 87.6,6.0" fill="#cccccc" filter="url(#b1)"/><polygon points="91.6,-4.0 103.6,-4.0 103.6,9.0 96.6,3.0" fill="#ededed" filter="url(#b1)"/><polygon points="53.6,98.0 73.6,83.0 89.6,69.0 103.6,49.0 103.6,98.0" fill="#a8a8a8" filter="url(#b2)"/><polygon points="73.6,98.0 89.6,85.0 103.6,69.0 103.6,98.0" fill="#e0e0e0" filter="url(#b1)"/><ellipse cx="98.6" cy="93.0" rx="6" ry="5" fill="#fafafa" filter="url(#b1)"/><polyline points="0.2,49.0 0.2,73.0" fill="none" stroke="#5c5c5c" stroke-width="1.6" stroke-linecap="round" stroke-linejoin="round"/><ellipse cx="3.6" cy="81.0" rx="4" ry="7" fill="#141414" filter="url(#b1)"/></g></g>
</g></g>
<g transform="translate(114.4,103.0)">
<ellipse cx="49.15" cy="47.0" rx="26.25" ry="26.5" fill="none" stroke="#000" stroke-width="1.5"/><ellipse cx="49.25" cy="47.15" rx="8.95" ry="8.8" fill="none" stroke="#000" stroke-width="1.5"/><circle cx="51.65" cy="39.0" r="2.15" fill="#ffffff" stroke="#000" stroke-width="0.95"/><circle cx="44.95" cy="41.8" r="2.15" fill="#ffffff" stroke="#000" stroke-width="0.95"/><circle cx="35.15" cy="44.8" r="2.15" fill="#d9d9ff" stroke="#000" stroke-width="0.95"/><circle cx="40.95" cy="46.8" r="2.15" fill="#ccccff" stroke="#000" stroke-width="0.95"/><circle cx="66.65" cy="38.8" r="2.15" fill="#ffe0e0" stroke="#000" stroke-width="0.95"/><circle cx="56.65" cy="50.5" r="2.15" fill="#ffe5e5" stroke="#000" stroke-width="0.95"/><circle cx="49.15" cy="53.5" r="2.15" fill="#c7c7ff" stroke="#000" stroke-width="0.95"/><circle cx="40.15" cy="55.8" r="2.15" fill="#ffffff" stroke="#000" stroke-width="0.95"/><circle cx="19.15" cy="55.8" r="2.15" fill="#ffffff" stroke="#000" stroke-width="0.95"/><circle cx="15.65" cy="70.0" r="2.15" fill="#d9d9ff" stroke="#000" stroke-width="0.95"/>
<rect x="4.6" y="4.4" width="10.4" height="13.0" fill="#fff" fill-opacity="0.8"/>
<text x="9.80" y="14.50" font-size="12.6" text-anchor="middle" fill="#000" class="se">f)</text>
</g>
<rect x="114.9" y="103.5" width="98.3" height="93.4" fill="none" stroke="#000" stroke-width="1"/>
<g clip-path="url(#cp12)">
<g transform="translate(223.5,103.0)">
<g transform="rotate(25 50 46)" filter="url(#vmg)"><g transform="rotate(-25 50 46)"><rect x="-40" y="-40" width="180" height="176" fill="#787878"/><polygon points="-2.5,1.0 10.5,9.0 14.5,47.0 8.5,77.0 -2.5,87.0" fill="#b2b2b2" filter="url(#b2)"/><ellipse cx="12.5" cy="47.0" rx="10" ry="30" fill="#8c8c8c" filter="url(#b3)"/><ellipse cx="16.5" cy="7.0" rx="14" ry="7" fill="#878787" filter="url(#b3)"/><polygon points="60.5,-4.0 104.5,-4.0 104.5,43.0 88.5,34.0 73.5,18.0" fill="#1c1c1c" filter="url(#b2)"/><polyline points="76.5,9.0 68.5,27.0" fill="none" stroke="#383838" stroke-width="6" stroke-linecap="round" stroke-linejoin="round" filter="url(#b2)"/><polygon points="26.5,-4.0 76.5,-4.0 88.5,35.0 80.5,57.0 60.5,73.0 42.5,98.0 22.5,98.0 32.5,69.0 37.5,39.0 30.5,15.0" fill="#575757" filter="url(#b3)"/><polyline points="30.5,96.0 46.5,63.0 63.5,27.0 74.5,3.0" fill="none" stroke="#4a4a4a" stroke-width="12" stroke-linecap="round" stroke-linejoin="round" filter="url(#b3)"/><ellipse cx="51.5" cy="47.0" rx="12" ry="11" fill="#545454" filter="url(#b3)"/><polygon points="68.5,98.0 86.5,81.0 104.5,63.0 104.5,98.0" fill="#9e9e9e" filter="url(#b2)"/><ellipse cx="98.5" cy="93.0" rx="6" ry="4" fill="#b8b8b8" filter="url(#b1)"/><ellipse cx="88.5" cy="53.0" rx="10" ry="14" fill="#6b6b6b" filter="url(#b3)"/><polyline points="14.5,93.0 22.5,73.0" fill="none" stroke="#616161" stroke-width="5" stroke-linecap="round" stroke-linejoin="round" filter="url(#b2)"/></g></g>
</g></g>
<g transform="translate(223.5,103.0)">
<ellipse cx="49.2" cy="47.0" rx="26.25" ry="26.5" fill="none" stroke="#000" stroke-width="1.5"/><ellipse cx="49.3" cy="47.15" rx="8.95" ry="8.8" fill="none" stroke="#000" stroke-width="1.5"/><circle cx="45.0" cy="41.8" r="2.15" fill="#ffb8b8" stroke="#000" stroke-width="0.95"/><circle cx="41.0" cy="46.8" r="2.15" fill="#ffbfbf" stroke="#000" stroke-width="0.95"/><circle cx="66.7" cy="38.8" r="2.15" fill="#ffcccc" stroke="#000" stroke-width="0.95"/><circle cx="49.2" cy="53.5" r="2.15" fill="#ffbfbf" stroke="#000" stroke-width="0.95"/><circle cx="40.2" cy="55.8" r="2.15" fill="#ffcccc" stroke="#000" stroke-width="0.95"/><circle cx="19.2" cy="55.8" r="2.15" fill="#ffd9d9" stroke="#000" stroke-width="0.95"/><circle cx="15.7" cy="70.0" r="2.15" fill="#ffebeb" stroke="#000" stroke-width="0.95"/>
<rect x="4.6" y="4.4" width="13.1" height="13.0" fill="#fff" fill-opacity="0.8"/>
<text x="11.15" y="14.50" font-size="12.6" text-anchor="middle" fill="#000" class="se">g)</text>
</g>
<rect x="224.0" y="103.5" width="98.3" height="93.4" fill="none" stroke="#000" stroke-width="1"/>
<g clip-path="url(#cp13)">
<g transform="translate(332.5,103.0)">
<g transform="rotate(30 50 46)" filter="url(#vmh)"><g transform="rotate(-30 50 46)"><rect x="-40" y="-40" width="180" height="176" fill="#080808"/><polyline points="28.5,23.0 34.5,11.0 40.5,-1.0" fill="none" stroke="#424242" stroke-width="6.5" stroke-linecap="round" stroke-linejoin="round" filter="url(#b1)"/><polyline points="16.5,17.0 24.5,1.0" fill="none" stroke="#333333" stroke-width="5" stroke-linecap="round" stroke-linejoin="round" filter="url(#b1)"/><polyline points="42.5,27.0 47.5,15.0 53.5,3.0" fill="none" stroke="#4c4c4c" stroke-width="7" stroke-linecap="round" stroke-linejoin="round" filter="url(#b1)"/><polyline points="33.5,8.0 37.5,-2.0" fill="none" stroke="#9e9e9e" stroke-width="2.2" stroke-linecap="round" stroke-linejoin="round" filter="url(#b1)"/><polyline points="55.5,7.0 60.5,-3.0" fill="none" stroke="#292929" stroke-width="6" stroke-linecap="round" stroke-linejoin="round" filter="url(#b2)"/><polygon points="41.5,47.0 57.5,42.0 75.5,45.0 103.5,45.0 103.5,98.0 65.5,98.0 58.5,83.0 50.5,65.0" fill="#3b3b3b" filter="url(#b2)"/><polyline points="43.5,49.0 33.5,65.0" fill="none" stroke="#333333" stroke-width="5" stroke-linecap="round" stroke-linejoin="round" filter="url(#b2)"/><ellipse cx="48.5" cy="51.0" rx="5" ry="4" fill="#737373" filter="url(#b1)"/><ellipse cx="54.5" cy="28.0" rx="7" ry="10" fill="#808080" filter="url(#b2)" transform="rotate(30 54.5 28.0)"/><polygon points="47.5,36.0 50.5,28.0 55.5,21.0 60.5,16.0 64.5,18.0 62.5,25.0 58.5,31.0 53.5,37.0" fill="#e6e6e6" filter="url(#b1)"/><ellipse cx="61.5" cy="10.0" rx="2" ry="3.5" fill="#bfbfbf" filter="url(#b1)"/><ellipse cx="79.5" cy="23.0" rx="14" ry="16" fill="#212121" filter="url(#b3)"/><ellipse cx="75.5" cy="27.0" rx="4" ry="7" fill="#404040" filter="url(#b1)"/><ellipse cx="69.5" cy="49.0" rx="4" ry="8" fill="#454545" filter="url(#b1)"/><ellipse cx="86.5" cy="43.0" rx="4" ry="6" fill="#0a0a0a"/><polygon points="67.5,65.0 83.5,55.0 103.5,43.0 103.5,98.0 73.5,98.0 69.5,83.0" fill="#666666" filter="url(#b1)"/><polygon points="91.5,57.0 103.5,49.0 103.5,98.0 87.5,98.0 89.5,77.0" fill="#a8a8a8" filter="url(#b1)"/><ellipse cx="97.5" cy="81.0" rx="3" ry="9" fill="#d1d1d1" filter="url(#b1)"/><ellipse cx="72.5" cy="74.0" rx="2.5" ry="5" fill="#0f0f0f"/><ellipse cx="81.5" cy="88.0" rx="3" ry="3.5" fill="#171717"/><ellipse cx="60.5" cy="71.0" rx="2.5" ry="6" fill="#141414"/><ellipse cx="29.5" cy="73.0" rx="8" ry="10" fill="#171717" filter="url(#b2)"/><ellipse cx="12.5" cy="57.0" rx="5" ry="7" fill="#1f1f1f" filter="url(#b2)"/><ellipse cx="7.5" cy="9.0" rx="5" ry="5" fill="#1a1a1a" filter="url(#b2)"/><ellipse cx="39.5" cy="47.0" rx="4" ry="6" fill="#0a0a0a"/></g></g>
</g></g>
<g transform="translate(332.5,103.0)">
<ellipse cx="49.3" cy="47.0" rx="26.25" ry="26.5" fill="none" stroke="#000" stroke-width="1.5"/><ellipse cx="49.4" cy="47.15" rx="8.95" ry="8.8" fill="none" stroke="#000" stroke-width="1.5"/><circle cx="43.4" cy="32.8" r="2.15" fill="#3333ff" stroke="#000" stroke-width="0.95"/><circle cx="51.8" cy="39.0" r="2.15" fill="#ff8c8c" stroke="#000" stroke-width="0.95"/><circle cx="45.1" cy="41.8" r="2.15" fill="#d9d9ff" stroke="#000" stroke-width="0.95"/><circle cx="66.8" cy="38.8" r="2.15" fill="#ffc7c7" stroke="#000" stroke-width="0.95"/><circle cx="49.3" cy="53.5" r="2.15" fill="#ffe0e0" stroke="#000" stroke-width="0.95"/><circle cx="19.3" cy="55.8" r="2.15" fill="#d9d9ff" stroke="#000" stroke-width="0.95"/>
<rect x="4.6" y="4.4" width="13.1" height="13.0" fill="#fff" fill-opacity="0.8"/>
<text x="11.15" y="14.50" font-size="12.6" text-anchor="middle" fill="#000" class="se">h)</text>
</g>
<rect x="333.0" y="103.5" width="98.3" height="93.4" fill="none" stroke="#000" stroke-width="1"/>
<text transform="translate(433.2,53.7) rotate(90)" font-size="10.1" class="it" text-anchor="middle" fill="#000">300 m</text>
<text transform="translate(433.2,145.8) rotate(90)" font-size="10.1" class="it" text-anchor="middle" fill="#000">100 m</text>
<defs><linearGradient id="bwr" x1="0" y1="0" x2="0" y2="1"><stop offset="0" stop-color="#ff0000"/><stop offset="0.5" stop-color="#ffffff"/><stop offset="1" stop-color="#0000ff"/></linearGradient></defs>
<rect x="445.5" y="14.8" width="12.5" height="170.39999999999998" fill="url(#bwr)"/>
<polygon points="445.5,15.0 451.75,6.0 458.0,15.0" fill="#ff0000"/>
<polygon points="445.5,185.0 451.75,193.8 458.0,185.0" fill="#0000ff"/>
<polygon points="445.5,14.8 451.75,6.0 458.0,14.8 458.0,185.2 451.75,193.8 445.5,185.2" fill="none" stroke="#000" stroke-width="0.8" stroke-linejoin="miter"/>
<line x1="458.0" y1="14.80" x2="461.8" y2="14.80" stroke="#000" stroke-width="0.7"/>
<text x="465.7" y="17.30" font-size="6.7" fill="#000">500</text>
<line x1="458.0" y1="31.84" x2="461.8" y2="31.84" stroke="#000" stroke-width="0.7"/>
<text x="465.7" y="34.34" font-size="6.7" fill="#000">400</text>
<line x1="458.0" y1="48.88" x2="461.8" y2="48.88" stroke="#000" stroke-width="0.7"/>
<text x="465.7" y="51.38" font-size="6.7" fill="#000">300</text>
<line x1="458.0" y1="65.92" x2="461.8" y2="65.92" stroke="#000" stroke-width="0.7"/>
<text x="465.7" y="68.42" font-size="6.7" fill="#000">200</text>
<line x1="458.0" y1="82.96" x2="461.8" y2="82.96" stroke="#000" stroke-width="0.7"/>
<text x="465.7" y="85.46" font-size="6.7" fill="#000">100</text>
<line x1="458.0" y1="100.00" x2="461.8" y2="100.00" stroke="#000" stroke-width="0.7"/>
<text x="465.7" y="102.50" font-size="6.7" fill="#000">0</text>
<line x1="458.0" y1="117.04" x2="461.8" y2="117.04" stroke="#000" stroke-width="0.7"/>
<text x="465.7" y="119.54" font-size="6.7" fill="#000">−100</text>
<line x1="458.0" y1="134.08" x2="461.8" y2="134.08" stroke="#000" stroke-width="0.7"/>
<text x="465.7" y="136.58" font-size="6.7" fill="#000">−200</text>
<line x1="458.0" y1="151.12" x2="461.8" y2="151.12" stroke="#000" stroke-width="0.7"/>
<text x="465.7" y="153.62" font-size="6.7" fill="#000">−300</text>
<line x1="458.0" y1="168.16" x2="461.8" y2="168.16" stroke="#000" stroke-width="0.7"/>
<text x="465.7" y="170.66" font-size="6.7" fill="#000">−400</text>
<line x1="458.0" y1="185.20" x2="461.8" y2="185.20" stroke="#000" stroke-width="0.7"/>
<text x="465.7" y="187.70" font-size="6.7" fill="#000">−500</text>
<text transform="translate(494.2,99.5) rotate(-90)" font-size="8.1" text-anchor="middle" fill="#000">Bias error (m agl)</text>
<rect x="43.60" y="213.2" width="335.50" height="11.400000000000006" fill="#4b0055"/>
<rect x="51.99" y="213.2" width="327.11" height="11.400000000000006" fill="#4a0a5e"/>
<rect x="60.38" y="213.2" width="318.73" height="11.400000000000006" fill="#481a68"/>
<rect x="68.76" y="213.2" width="310.34" height="11.400000000000006" fill="#46246e"/>
<rect x="77.15" y="213.2" width="301.95" height="11.400000000000006" fill="#432c74"/>
<rect x="85.54" y="213.2" width="293.56" height="11.400000000000006" fill="#3e357a"/>
<rect x="93.92" y="213.2" width="285.18" height="11.400000000000006" fill="#394080"/>
<rect x="102.31" y="213.2" width="276.79" height="11.400000000000006" fill="#304a86"/>
<rect x="110.70" y="213.2" width="268.40" height="11.400000000000006" fill="#24558c"/>
<rect x="119.09" y="213.2" width="260.01" height="11.400000000000006" fill="#0e5c92"/>
<rect x="127.47" y="213.2" width="251.63" height="11.400000000000006" fill="#045c90"/>
<rect x="135.86" y="213.2" width="243.24" height="11.400000000000006" fill="#00629a"/>
<rect x="144.25" y="213.2" width="234.85" height="11.400000000000006" fill="#00689a"/>
<rect x="152.64" y="213.2" width="226.46" height="11.400000000000006" fill="#006e9a"/>
<rect x="161.02" y="213.2" width="218.08" height="11.400000000000006" fill="#00749a"/>
<rect x="169.41" y="213.2" width="209.69" height="11.400000000000006" fill="#007a98"/>
<rect x="177.80" y="213.2" width="201.30" height="11.400000000000006" fill="#008098"/>
<rect x="186.19" y="213.2" width="192.91" height="11.400000000000006" fill="#008696"/>
<rect x="194.57" y="213.2" width="184.53" height="11.400000000000006" fill="#008c96"/>
<rect x="202.96" y="213.2" width="176.14" height="11.400000000000006" fill="#009294"/>
<rect x="211.35" y="213.2" width="167.75" height="11.400000000000006" fill="#009892"/>
<rect x="219.74" y="213.2" width="159.36" height="11.400000000000006" fill="#009c90"/>
<rect x="228.12" y="213.2" width="150.98" height="11.400000000000006" fill="#00a08c"/>
<rect x="236.51" y="213.2" width="142.59" height="11.400000000000006" fill="#00a488"/>
<rect x="244.90" y="213.2" width="134.20" height="11.400000000000006" fill="#00a884"/>
<rect x="253.29" y="213.2" width="125.81" height="11.400000000000006" fill="#00ac80"/>
<rect x="261.68" y="213.2" width="117.43" height="11.400000000000006" fill="#00b07c"/>
<rect x="270.06" y="213.2" width="109.04" height="11.400000000000006" fill="#00b476"/>
<rect x="278.45" y="213.2" width="100.65" height="11.400000000000006" fill="#00ba72"/>
<rect x="286.84" y="213.2" width="92.26" height="11.400000000000006" fill="#10c06c"/>
<rect x="295.22" y="213.2" width="83.88" height="11.400000000000006" fill="#40c668"/>
<rect x="303.61" y="213.2" width="75.49" height="11.400000000000006" fill="#5cca62"/>
<rect x="312.00" y="213.2" width="67.10" height="11.400000000000006" fill="#76ce5a"/>
<rect x="320.39" y="213.2" width="58.71" height="11.400000000000006" fill="#8ed252"/>
<rect x="328.77" y="213.2" width="50.33" height="11.400000000000006" fill="#a6d64a"/>
<rect x="337.16" y="213.2" width="41.94" height="11.400000000000006" fill="#bada42"/>
<rect x="345.55" y="213.2" width="33.55" height="11.400000000000006" fill="#ccdc3a"/>
<rect x="353.94" y="213.2" width="25.16" height="11.400000000000006" fill="#dce032"/>
<rect x="362.32" y="213.2" width="16.78" height="11.400000000000006" fill="#ece42e"/>
<rect x="370.71" y="213.2" width="8.39" height="11.400000000000006" fill="#f8e428"/>
<polygon points="378.90000000000003,213.2 395.70000000000005,218.89999999999998 378.90000000000003,224.6" fill="#f8e428"/>
<polygon points="43.6,224.6 43.6,213.2 379.1,213.2 395.70000000000005,218.89999999999998 379.1,224.6" fill="none" stroke="#000" stroke-width="0.8"/>
<line x1="43.6" y1="224.6" x2="43.6" y2="221.0" stroke="#000" stroke-width="0.7"/>
<text x="43.6" y="235.79999999999998" font-size="8.33" text-anchor="middle" fill="#000">0</text>
<line x1="127.47999999999999" y1="224.6" x2="127.47999999999999" y2="221.0" stroke="#000" stroke-width="0.7"/>
<text x="127.47999999999999" y="235.79999999999998" font-size="8.33" text-anchor="middle" fill="#000">200</text>
<line x1="211.35999999999999" y1="224.6" x2="211.35999999999999" y2="221.0" stroke="#000" stroke-width="0.7"/>
<text x="211.35999999999999" y="235.79999999999998" font-size="8.33" text-anchor="middle" fill="#000">400</text>
<line x1="295.24" y1="224.6" x2="295.24" y2="221.0" stroke="#000" stroke-width="0.7"/>
<text x="295.24" y="235.79999999999998" font-size="8.33" text-anchor="middle" fill="#000">600</text>
<line x1="379.12" y1="224.6" x2="379.12" y2="221.0" stroke="#000" stroke-width="0.7"/>
<text x="379.12" y="235.79999999999998" font-size="8.33" text-anchor="middle" fill="#000">800</text>
<text x="405.1" y="224.90" font-size="11.0" fill="#000">3 and 21 UTC</text>
<rect x="60.00" y="240.0" width="319.10" height="11.400000000000006" fill="#4b0055"/>
<rect x="67.98" y="240.0" width="311.12" height="11.400000000000006" fill="#4a0a5e"/>
<rect x="75.95" y="240.0" width="303.15" height="11.400000000000006" fill="#481a68"/>
<rect x="83.93" y="240.0" width="295.17" height="11.400000000000006" fill="#46246e"/>
<rect x="91.91" y="240.0" width="287.19" height="11.400000000000006" fill="#432c74"/>
<rect x="99.89" y="240.0" width="279.21" height="11.400000000000006" fill="#3e357a"/>
<rect x="107.87" y="240.0" width="271.24" height="11.400000000000006" fill="#394080"/>
<rect x="115.84" y="240.0" width="263.26" height="11.400000000000006" fill="#304a86"/>
<rect x="123.82" y="240.0" width="255.28" height="11.400000000000006" fill="#24558c"/>
<rect x="131.80" y="240.0" width="247.30" height="11.400000000000006" fill="#0e5c92"/>
<rect x="139.78" y="240.0" width="239.33" height="11.400000000000006" fill="#045c90"/>
<rect x="147.75" y="240.0" width="231.35" height="11.400000000000006" fill="#00629a"/>
<rect x="155.73" y="240.0" width="223.37" height="11.400000000000006" fill="#00689a"/>
<rect x="163.71" y="240.0" width="215.39" height="11.400000000000006" fill="#006e9a"/>
<rect x="171.69" y="240.0" width="207.42" height="11.400000000000006" fill="#00749a"/>
<rect x="179.66" y="240.0" width="199.44" height="11.400000000000006" fill="#007a98"/>
<rect x="187.64" y="240.0" width="191.46" height="11.400000000000006" fill="#008098"/>
<rect x="195.62" y="240.0" width="183.48" height="11.400000000000006" fill="#008696"/>
<rect x="203.60" y="240.0" width="175.50" height="11.400000000000006" fill="#008c96"/>
<rect x="211.57" y="240.0" width="167.53" height="11.400000000000006" fill="#009294"/>
<rect x="219.55" y="240.0" width="159.55" height="11.400000000000006" fill="#009892"/>
<rect x="227.53" y="240.0" width="151.57" height="11.400000000000006" fill="#009c90"/>
<rect x="235.51" y="240.0" width="143.59" height="11.400000000000006" fill="#00a08c"/>
<rect x="243.48" y="240.0" width="135.62" height="11.400000000000006" fill="#00a488"/>
<rect x="251.46" y="240.0" width="127.64" height="11.400000000000006" fill="#00a884"/>
<rect x="259.44" y="240.0" width="119.66" height="11.400000000000006" fill="#00ac80"/>
<rect x="267.42" y="240.0" width="111.69" height="11.400000000000006" fill="#00b07c"/>
<rect x="275.39" y="240.0" width="103.71" height="11.400000000000006" fill="#00b476"/>
<rect x="283.37" y="240.0" width="95.73" height="11.400000000000006" fill="#00ba72"/>
<rect x="291.35" y="240.0" width="87.75" height="11.400000000000006" fill="#10c06c"/>
<rect x="299.33" y="240.0" width="79.77" height="11.400000000000006" fill="#40c668"/>
<rect x="307.30" y="240.0" width="71.80" height="11.400000000000006" fill="#5cca62"/>
<rect x="315.28" y="240.0" width="63.82" height="11.400000000000006" fill="#76ce5a"/>
<rect x="323.26" y="240.0" width="55.84" height="11.400000000000006" fill="#8ed252"/>
<rect x="331.24" y="240.0" width="47.87" height="11.400000000000006" fill="#a6d64a"/>
<rect x="339.21" y="240.0" width="39.89" height="11.400000000000006" fill="#bada42"/>
<rect x="347.19" y="240.0" width="31.91" height="11.400000000000006" fill="#ccdc3a"/>
<rect x="355.17" y="240.0" width="23.93" height="11.400000000000006" fill="#dce032"/>
<rect x="363.15" y="240.0" width="15.95" height="11.400000000000006" fill="#ece42e"/>
<rect x="371.12" y="240.0" width="7.98" height="11.400000000000006" fill="#f8e428"/>
<polygon points="60.2,240.0 43.6,245.7 60.2,251.4" fill="#4b0055"/>
<polygon points="378.90000000000003,240.0 395.70000000000005,245.7 378.90000000000003,251.4" fill="#f8e428"/>
<polygon points="60.0,251.4 43.6,245.7 60.0,240.0 379.1,240.0 395.70000000000005,245.7 379.1,251.4" fill="none" stroke="#000" stroke-width="0.8"/>
<line x1="60.0" y1="251.4" x2="60.0" y2="247.8" stroke="#000" stroke-width="0.7"/>
<text x="60.0" y="262.6" font-size="8.33" text-anchor="middle" fill="#000">100</text>
<line x1="123.82" y1="251.4" x2="123.82" y2="247.8" stroke="#000" stroke-width="0.7"/>
<text x="123.82" y="262.6" font-size="8.33" text-anchor="middle" fill="#000">500</text>
<line x1="187.64" y1="251.4" x2="187.64" y2="247.8" stroke="#000" stroke-width="0.7"/>
<text x="187.64" y="262.6" font-size="8.33" text-anchor="middle" fill="#000">900</text>
<line x1="251.46" y1="251.4" x2="251.46" y2="247.8" stroke="#000" stroke-width="0.7"/>
<text x="251.46" y="262.6" font-size="8.33" text-anchor="middle" fill="#000">1300</text>
<line x1="315.28" y1="251.4" x2="315.28" y2="247.8" stroke="#000" stroke-width="0.7"/>
<text x="315.28" y="262.6" font-size="8.33" text-anchor="middle" fill="#000">1700</text>
<line x1="379.1" y1="251.4" x2="379.1" y2="247.8" stroke="#000" stroke-width="0.7"/>
<text x="379.1" y="262.6" font-size="8.33" text-anchor="middle" fill="#000">2100</text>
<text x="405.1" y="251.70" font-size="11.0" fill="#000">9 UTC</text>
<rect x="60.00" y="267.0" width="319.10" height="11.399999999999977" fill="#4b0055"/>
<rect x="67.98" y="267.0" width="311.12" height="11.399999999999977" fill="#4a0a5e"/>
<rect x="75.95" y="267.0" width="303.15" height="11.399999999999977" fill="#481a68"/>
<rect x="83.93" y="267.0" width="295.17" height="11.399999999999977" fill="#46246e"/>
<rect x="91.91" y="267.0" width="287.19" height="11.399999999999977" fill="#432c74"/>
<rect x="99.89" y="267.0" width="279.21" height="11.399999999999977" fill="#3e357a"/>
<rect x="107.87" y="267.0" width="271.24" height="11.399999999999977" fill="#394080"/>
<rect x="115.84" y="267.0" width="263.26" height="11.399999999999977" fill="#304a86"/>
<rect x="123.82" y="267.0" width="255.28" height="11.399999999999977" fill="#24558c"/>
<rect x="131.80" y="267.0" width="247.30" height="11.399999999999977" fill="#0e5c92"/>
<rect x="139.78" y="267.0" width="239.33" height="11.399999999999977" fill="#045c90"/>
<rect x="147.75" y="267.0" width="231.35" height="11.399999999999977" fill="#00629a"/>
<rect x="155.73" y="267.0" width="223.37" height="11.399999999999977" fill="#00689a"/>
<rect x="163.71" y="267.0" width="215.39" height="11.399999999999977" fill="#006e9a"/>
<rect x="171.69" y="267.0" width="207.42" height="11.399999999999977" fill="#00749a"/>
<rect x="179.66" y="267.0" width="199.44" height="11.399999999999977" fill="#007a98"/>
<rect x="187.64" y="267.0" width="191.46" height="11.399999999999977" fill="#008098"/>
<rect x="195.62" y="267.0" width="183.48" height="11.399999999999977" fill="#008696"/>
<rect x="203.60" y="267.0" width="175.50" height="11.399999999999977" fill="#008c96"/>
<rect x="211.57" y="267.0" width="167.53" height="11.399999999999977" fill="#009294"/>
<rect x="219.55" y="267.0" width="159.55" height="11.399999999999977" fill="#009892"/>
<rect x="227.53" y="267.0" width="151.57" height="11.399999999999977" fill="#009c90"/>
<rect x="235.51" y="267.0" width="143.59" height="11.399999999999977" fill="#00a08c"/>
<rect x="243.48" y="267.0" width="135.62" height="11.399999999999977" fill="#00a488"/>
<rect x="251.46" y="267.0" width="127.64" height="11.399999999999977" fill="#00a884"/>
<rect x="259.44" y="267.0" width="119.66" height="11.399999999999977" fill="#00ac80"/>
<rect x="267.42" y="267.0" width="111.69" height="11.399999999999977" fill="#00b07c"/>
<rect x="275.39" y="267.0" width="103.71" height="11.399999999999977" fill="#00b476"/>
<rect x="283.37" y="267.0" width="95.73" height="11.399999999999977" fill="#00ba72"/>
<rect x="291.35" y="267.0" width="87.75" height="11.399999999999977" fill="#10c06c"/>
<rect x="299.33" y="267.0" width="79.77" height="11.399999999999977" fill="#40c668"/>
<rect x="307.30" y="267.0" width="71.80" height="11.399999999999977" fill="#5cca62"/>
<rect x="315.28" y="267.0" width="63.82" height="11.399999999999977" fill="#76ce5a"/>
<rect x="323.26" y="267.0" width="55.84" height="11.399999999999977" fill="#8ed252"/>
<rect x="331.24" y="267.0" width="47.87" height="11.399999999999977" fill="#a6d64a"/>
<rect x="339.21" y="267.0" width="39.89" height="11.399999999999977" fill="#bada42"/>
<rect x="347.19" y="267.0" width="31.91" height="11.399999999999977" fill="#ccdc3a"/>
<rect x="355.17" y="267.0" width="23.93" height="11.399999999999977" fill="#dce032"/>
<rect x="363.15" y="267.0" width="15.95" height="11.399999999999977" fill="#ece42e"/>
<rect x="371.12" y="267.0" width="7.98" height="11.399999999999977" fill="#f8e428"/>
<polygon points="60.2,267.0 43.6,272.7 60.2,278.4" fill="#4b0055"/>
<polygon points="378.90000000000003,267.0 395.70000000000005,272.7 378.90000000000003,278.4" fill="#f8e428"/>
<polygon points="60.0,278.4 43.6,272.7 60.0,267.0 379.1,267.0 395.70000000000005,272.7 379.1,278.4" fill="none" stroke="#000" stroke-width="0.8"/>
<line x1="60.0" y1="278.4" x2="60.0" y2="274.79999999999995" stroke="#000" stroke-width="0.7"/>
<text x="60.0" y="289.59999999999997" font-size="8.33" text-anchor="middle" fill="#000">2800</text>
<line x1="113.18" y1="278.4" x2="113.18" y2="274.79999999999995" stroke="#000" stroke-width="0.7"/>
<text x="113.18" y="289.59999999999997" font-size="8.33" text-anchor="middle" fill="#000">3000</text>
<line x1="166.36" y1="278.4" x2="166.36" y2="274.79999999999995" stroke="#000" stroke-width="0.7"/>
<text x="166.36" y="289.59999999999997" font-size="8.33" text-anchor="middle" fill="#000">3200</text>
<line x1="219.54" y1="278.4" x2="219.54" y2="274.79999999999995" stroke="#000" stroke-width="0.7"/>
<text x="219.54" y="289.59999999999997" font-size="8.33" text-anchor="middle" fill="#000">3400</text>
<line x1="272.72" y1="278.4" x2="272.72" y2="274.79999999999995" stroke="#000" stroke-width="0.7"/>
<text x="272.72" y="289.59999999999997" font-size="8.33" text-anchor="middle" fill="#000">3600</text>
<line x1="325.9" y1="278.4" x2="325.9" y2="274.79999999999995" stroke="#000" stroke-width="0.7"/>
<text x="325.9" y="289.59999999999997" font-size="8.33" text-anchor="middle" fill="#000">3800</text>
<line x1="379.08" y1="278.4" x2="379.08" y2="274.79999999999995" stroke="#000" stroke-width="0.7"/>
<text x="379.08" y="289.59999999999997" font-size="8.33" text-anchor="middle" fill="#000">4000</text>
<text x="405.1" y="278.70" font-size="11.0" fill="#000">15 UTC</text>
<text x="219.8" y="303.2" font-size="8.7" text-anchor="middle" fill="#000">Z<tspan font-size="6.1" dy="1.4" class="it">M</tspan><tspan dy="-1.4"> (m agl)</tspan></text>
</svg></body></html>
